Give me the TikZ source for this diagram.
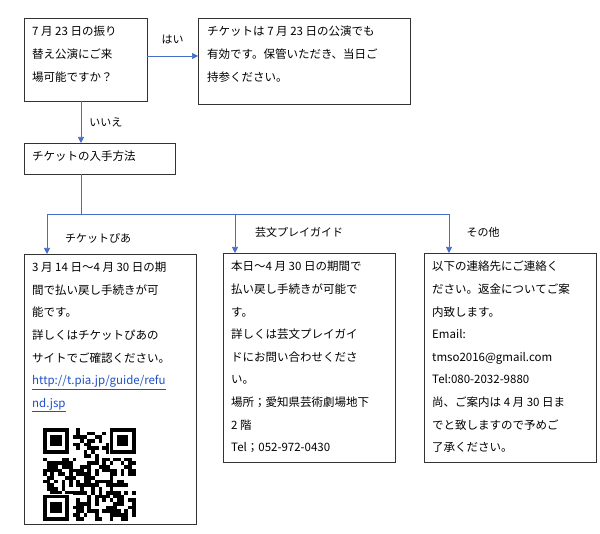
\documentclass[tikz,border=0pt]{standalone}
\usepackage{fontspec}
\setmainfont{Noto Sans CJK JP}
\usetikzlibrary{arrows.meta}
\definecolor{lnk}{RGB}{70,110,200}
\definecolor{url}{RGB}{30,80,200}
\begin{document}
\begin{tikzpicture}[x=1pt,y=-1pt,
  box/.style={draw=black!80,line width=0.8pt},
  txt/.style={anchor=north west,align=left,inner sep=0pt,font=\fontsize{11.5}{22.6}\selectfont},
  lbl/.style={font=\fontsize{11}{13}\selectfont,inner sep=0pt},
  conn/.style={draw=lnk,line width=0.7pt},
  arr/.style={conn,-{Triangle[length=6pt,width=6pt]}}]
\useasboundingbox (0,0) rectangle (600,534);
% boxes
\draw[box] (24,18) rectangle (147,101);
\node[txt] (At) at (32,26) {7 月 23 日の振り\\替え公演にご来\\場可能ですか？};
\draw[box] (198,18) rectangle (410,104);
\node[txt] (Bt) at (207,26) {チケットは 7 月 23 日の公演でも\\有効です。保管いただき、当日ご\\持参ください。};
\draw[box] (24,143) rectangle (175,174);
\node[txt] (Ct) at (32,151) {チケットの入手方法};
\draw[box] (24,254) rectangle (196,524);
\node[txt] (Dt) at (32,262) {3 月 14 日～4 月 30 日の期\\間で払い戻し手続きが可\\能です。\\詳しくはチケットぴあの\\サイトでご確認ください。\\\textcolor{url}{\underline{http://t.pia.jp/guide/refu}}\\\textcolor{url}{\underline{nd.jsp}}};
\draw[box] (223,253) rectangle (395,462);
\node[txt] (Et) at (231,261) {本日～4 月 30 日の期間で\\払い戻し手続きが可能で\\す。\\詳しくは芸文プレイガイ\\ドにお問い合わせくださ\\い。\\場所；愛知県芸術劇場地下\\2 階\\Tel；052-972-0430};
\draw[box] (424,253) rectangle (596,462);
\node[txt] (Ft) at (432,261) {以下の連絡先にご連絡く\\ださい。返金についてご案\\内致します。\\Email:\\tmso2016@gmail.com\\Tel:080-2032-9880\\尚、ご案内は 4 月 30 日ま\\でと致しますので予めご\\了承ください。};
% QR code
\begin{scope}[shift={(43,428)}]
\pgfmathsetseed{11}
\foreach \i in {0,...,24}{\foreach \j in {0,...,24}{
  \pgfmathparse{rnd<0.5?1:0}
  \ifnum\pgfmathresult=1 \fill (\i*3.7,\j*3.7) rectangle ++(3.7,3.7);\fi}}
\foreach \px/\py in {0/0,66.6/0,0/66.6}{
  \fill[white] (\px-1,\py-1) rectangle (\px+29.6,\py+29.6);
  \fill (\px,\py) rectangle (\px+25.9,\py+25.9);
  \fill[white] (\px+3.7,\py+3.7) rectangle (\px+22.2,\py+22.2);
  \fill (\px+7.4,\py+7.4) rectangle (\px+18.5,\py+18.5);}
\end{scope}
% connectors
\coordinate (a1) at (147,56); \coordinate (b1) at (198,56);
\draw[arr] (a1) -- (b1) node[lbl,midway,above=12pt] {はい};
\coordinate (a2) at (81,101); \coordinate (c1) at (81,143);
\draw[arr] (a2) -- (c1) node[lbl,midway,right=8pt] {いいえ};
\coordinate (c2) at (81,174); \coordinate (h) at (81,214);
\coordinate (h1) at (47,214); \coordinate (h2) at (235,214); \coordinate (h3) at (449,214);
\coordinate (d1) at (47,254); \coordinate (e1) at (235,253); \coordinate (f1) at (449,253);
\draw[conn] (c2) -- (h);
\draw[conn] (h1) -- (h3);
\draw[arr] (h1) -- (d1);
\draw[arr] (h2) -- (e1);
\draw[arr] (h3) -- (f1);
\node[lbl] at (98,238) {チケットぴあ};
\node[lbl] at (299,232) {芸文プレイガイド};
\node[lbl] at (483,232) {その他};
\end{tikzpicture}
\end{document}
